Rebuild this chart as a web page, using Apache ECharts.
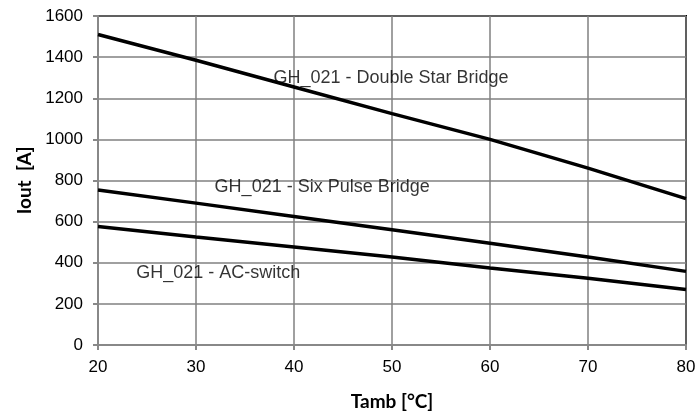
<!DOCTYPE html>
<html>
<head>
<meta charset="utf-8">
<script src="https://cdn.jsdelivr.net/npm/echarts@6/dist/echarts.min.js"></script>
<style>
  html, body { margin: 0; padding: 0; background: #fff; }
  #chart { width: 699px; height: 416px; }
</style>
</head>
<body>
<div id="chart"></div>
<script>
// Tamb [°C] vs Iout [A]
const tamb = [20, 30, 40, 50, 60, 70, 80];
const doubleStar = [1510, 1385, 1255, 1125, 1000, 860, 712];
const sixPulse = [754, 690, 625, 560, 495, 428, 358];
const acSwitch = [576, 525, 477, 428, 375, 325, 270];

// text labels placed in data coordinates [Tamb, Iout]
const labelTexts = ['GH_021 - Double Star Bridge', 'GH_021 - Six Pulse Bridge', 'GH_021 - AC-switch'];
const labelPos = [[37.9, 1298], [31.9, 768], [23.9, 350]];

const chart = echarts.init(document.getElementById('chart'));

const FONT = 'Arial, "Liberation Sans", sans-serif';
const lineStyle = { color: '#000', width: 3.5 };
function pairs(ys) { return tamb.map((t, i) => [t, ys[i]]); }

const option = {
  animation: false,
  backgroundColor: '#fff',
  grid: {
    left: 98, right: 13, top: 16, bottom: 71,
    show: true, borderColor: '#000', borderWidth: 2, backgroundColor: 'transparent'
  },
  xAxis: {
    type: 'value', min: 20, max: 80, interval: 10,
    name: 'Tamb [°C]', nameLocation: 'middle', nameGap: 47,
    nameTextStyle: { fontFamily: 'Lato', fontWeight: 'bold', fontSize: 19, color: '#000' },
    axisLine: { lineStyle: { color: '#888', width: 2 } },
    axisTick: { show: true, length: 5, lineStyle: { color: '#888', width: 2 } },
    axisLabel: { color: '#000', fontSize: 17, margin: 14, fontFamily: FONT },
    splitLine: { lineStyle: { color: '#808080', width: 1.5 } }
  },
  yAxis: {
    type: 'value', min: 0, max: 1600, interval: 200,
    name: 'Iout  [A]', nameLocation: 'middle', nameGap: 64, nameRotate: 90,
    nameTextStyle: { fontFamily: 'Lato', fontWeight: 'bold', fontSize: 19, color: '#000' },
    axisLine: { show: true, lineStyle: { color: '#888', width: 2 } },
    axisTick: { show: true, length: 5, lineStyle: { color: '#888', width: 2 } },
    axisLabel: { color: '#000', fontSize: 17, margin: 15, fontFamily: FONT, formatter: v => String(v) },
    splitLine: { lineStyle: { color: '#808080', width: 1.5 } }
  },
  series: [
    { type: 'line', data: pairs(doubleStar), symbol: 'none', lineStyle: lineStyle },
    { type: 'line', data: pairs(sixPulse), symbol: 'none', lineStyle: lineStyle },
    { type: 'line', data: pairs(acSwitch), symbol: 'none', lineStyle: lineStyle },
    {
      type: 'scatter', symbolSize: 0, silent: true, z: 5,
      data: labelPos.map((p, i) => ({ value: p, name: labelTexts[i] })),
      label: {
        show: true, position: 'right', distance: 0,
        formatter: p => p.name, color: '#000', fontSize: 18, fontFamily: FONT
      },
      emphasis: { disabled: true }
    }
  ]
};

chart.setOption(option);
</script>
</body>
</html>
